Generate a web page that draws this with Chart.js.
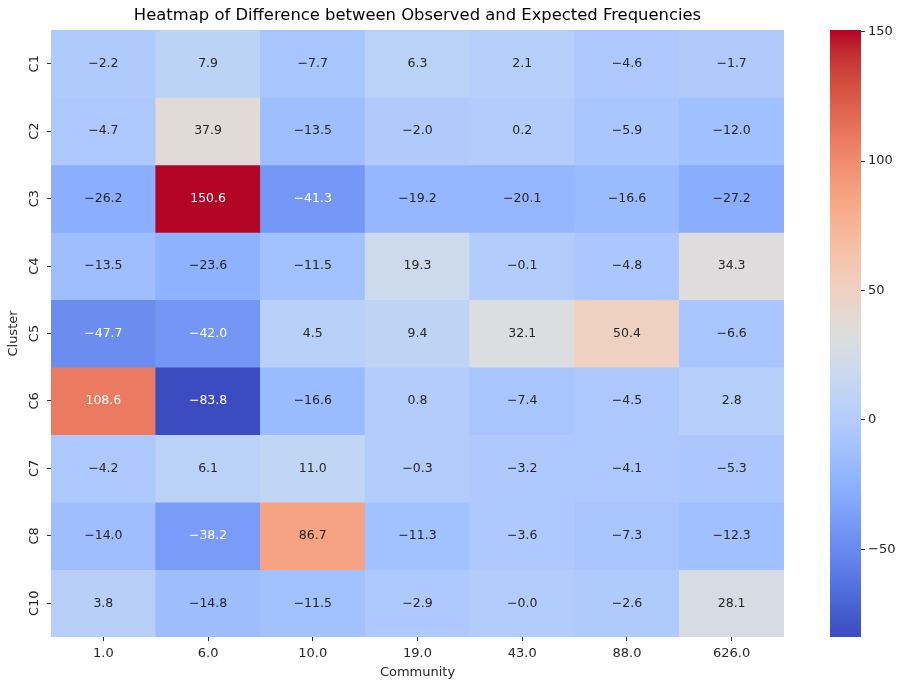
<!DOCTYPE html>
<html>
<head>
<meta charset="utf-8">
<script src="https://cdn.jsdelivr.net/npm/chart.js@4.4.1/dist/chart.umd.min.js"></script>
<style>
  body { margin: 0; background: #fff; }
  #wrap { position: relative; width: 903px; height: 682px; }
  canvas { position: absolute; top: 0; }
  #heat { left: 0; }
  #cbar { left: 800px; }
</style>
</head>
<body>
<div id="wrap">
  <canvas id="heat" width="835" height="682"></canvas>
  <canvas id="cbar" width="103" height="682"></canvas>
</div>
<script>
// columns and rows
const communities = ['1.0', '6.0', '10.0', '19.0', '43.0', '88.0', '626.0']
const clusters = ['C1', 'C2', 'C3', 'C4', 'C5', 'C6', 'C7', 'C8', 'C10']

// observed - expected, one array per cluster
const c1  = [-2.2, 7.9, -7.7, 6.3, 2.1, -4.6, -1.7]
const c2  = [-4.7, 37.9, -13.5, -2.0, 0.2, -5.9, -12.0]
const c3  = [-26.2, 150.6, -41.3, -19.2, -20.1, -16.6, -27.2]
const c4  = [-13.5, -23.6, -11.5, 19.3, -0.1, -4.8, 34.3]
const c5  = [-47.7, -42.0, 4.5, 9.4, 32.1, 50.4, -6.6]
const c6  = [108.6, -83.8, -16.6, 0.8, -7.4, -4.5, 2.8]
const c7  = [-4.2, 6.1, 11.0, -0.3, -3.2, -4.1, -5.3]
const c8  = [-14.0, -38.2, 86.7, -11.3, -3.6, -7.3, -12.3]
const c10 = [3.8, -14.8, -11.5, -2.9, -0.0, -2.6, 28.1]
const rows = [c1, c2, c3, c4, c5, c6, c7, c8, c10]

const cbTicks = [-50, 0, 50, 100, 150]

const allVals = rows.flat()
const vMin = Math.min(...allVals)
const vMax = Math.max(...allVals)

// matplotlib coolwarm (Moreland), 33 evenly spaced stops
const cw = [
  [59,76,192],[68,90,204],[77,104,215],[87,117,225],[98,130,234],[108,142,241],
  [119,154,247],[130,165,251],[141,176,254],[152,185,255],[163,194,255],[174,201,253],
  [184,208,249],[194,213,244],[204,217,238],[213,219,230],[221,221,221],[229,216,209],
  [236,211,197],[241,204,184],[245,196,172],[247,187,159],[247,177,147],[247,166,134],
  [244,154,123],[241,141,111],[236,127,99],[229,112,89],[222,96,77],[213,80,66],
  [203,62,56],[192,40,47],[180,4,38]
]

function cmap(v) {
  let t = (v - vMin) / (vMax - vMin)
  t = Math.max(0, Math.min(1, t))
  const n = cw.length - 1
  const p = t * n
  const i = Math.min(Math.floor(p), n - 1)
  const f = p - i
  return cw[i].map((c, k) => Math.round(c + (cw[i + 1][k] - c) * f))
}
const rgb = c => 'rgb(' + c.join(',') + ')'

function textColor(c) {
  const lin = c.map(x => { x = x / 255; return x <= 0.03928 ? x / 12.92 : Math.pow((x + 0.055) / 1.055, 2.4) })
  const lum = 0.2126 * lin[0] + 0.7152 * lin[1] + 0.0722 * lin[2]
  return lum <= 0.408 ? '#ffffff' : 'rgb(38,38,38)'
}

function fmt(v) {
  const s = Math.abs(v).toFixed(1)
  return (v < 0 || Object.is(v, -0)) ? '\u2212' + s : s
}

const font = { family: 'DejaVu Sans', size: 13 }
const ink = 'rgb(38,38,38)'

// one floating-bar dataset per cluster row
const datasets = rows.map((vals, r) => ({
  label: clusters[r],
  data: vals.map(() => [r, r + 1]),
  backgroundColor: vals.map(v => rgb(cmap(v))),
  borderWidth: 0,
  barPercentage: 1,
  categoryPercentage: 1,
  grouped: false
}))

const annotate = {
  id: 'annotate',
  afterDatasetsDraw(chart) {
    const ctx = chart.ctx
    const xs = chart.scales.x, ys = chart.scales.y
    ctx.save()
    ctx.font = '12.5px "DejaVu Sans"'
    ctx.textAlign = 'center'
    ctx.textBaseline = 'middle'
    rows.forEach((vals, r) => {
      vals.forEach((v, c) => {
        ctx.fillStyle = textColor(cmap(v))
        ctx.fillText(fmt(v), xs.getPixelForValue(c), ys.getPixelForValue(r + 0.5))
      })
    })
    ctx.restore()
  }
}

new Chart(document.getElementById('heat'), {
  type: 'bar',
  data: { labels: communities, datasets: datasets },
  options: {
    responsive: false,
    animation: false,
    devicePixelRatio: 1,
    layout: { padding: 0 },
    plugins: {
      legend: { display: false },
      tooltip: { enabled: false },
      title: {
        display: true,
        text: 'Heatmap of Difference between Observed and Expected Frequencies',
        font: { family: 'DejaVu Sans', size: 16.4, weight: 'normal' },
        color: '#000',
        padding: { top: 6, bottom: 4.3 }
      }
    },
    scales: {
      x: {
        type: 'category',
        offset: true,
        grid: { offset: false, drawOnChartArea: false, tickLength: 4, color: '#333' },
        border: { display: false },
        ticks: { font: font, color: ink, padding: 5, maxRotation: 0 },
        title: { display: true, text: 'Community', font: font, color: ink, padding: { top: 0, bottom: 2 } },
        afterFit(s) { s.height = 45 }
      },
      y: {
        type: 'linear',
        min: 0,
        max: rows.length,
        reverse: true,
        afterBuildTicks(s) { s.ticks = clusters.map((_, i) => ({ value: i + 0.5 })) },
        grid: { drawOnChartArea: false, tickLength: 4, color: '#333' },
        border: { display: false },
        ticks: {
          font: font, color: ink, padding: 0, minRotation: 90, maxRotation: 90,
          crossAlign: 'center',
          callback: (v, i) => clusters[i]
        },
        title: { display: true, text: 'Cluster', font: font, color: ink, padding: { top: 6, bottom: 2 } },
        afterFit(s) { s.width = 51 }
      },
      // empty right-hand axis that keeps the room where the colour bar sits
      spacer: {
        type: 'linear',
        position: 'right',
        grid: { display: false },
        border: { display: false },
        ticks: { display: false },
        afterFit(s) { s.width = 51 }
      }
    }
  },
  plugins: [annotate]
})

// colour bar
new Chart(document.getElementById('cbar'), {
  type: 'bar',
  data: {
    labels: [''],
    datasets: [{
      data: [[vMin, vMax]],
      borderWidth: 0,
      barPercentage: 1,
      categoryPercentage: 1,
      backgroundColor(context) {
        const area = context.chart.chartArea
        if (!area) return null
        const g = context.chart.ctx.createLinearGradient(0, area.bottom, 0, area.top)
        cw.forEach((c, i) => g.addColorStop(i / (cw.length - 1), rgb(c)))
        return g
      }
    }]
  },
  options: {
    responsive: false,
    animation: false,
    devicePixelRatio: 1,
    layout: { padding: { left: 30, right: 0, top: 30, bottom: 45 } },
    plugins: { legend: { display: false }, tooltip: { enabled: false } },
    scales: {
      x: { display: false },
      y: {
        position: 'right',
        min: vMin,
        max: vMax,
        afterBuildTicks(s) { s.ticks = cbTicks.map(v => ({ value: v })) },
        grid: { drawOnChartArea: false, tickLength: 4, color: '#333' },
        border: { display: false },
        ticks: { font: font, color: ink, padding: 3, callback: v => (v < 0 ? '\u2212' : '') + Math.abs(v) },
        afterFit(s) { s.width = 42 }
      }
    }
  }
})
</script>
</body>
</html>
